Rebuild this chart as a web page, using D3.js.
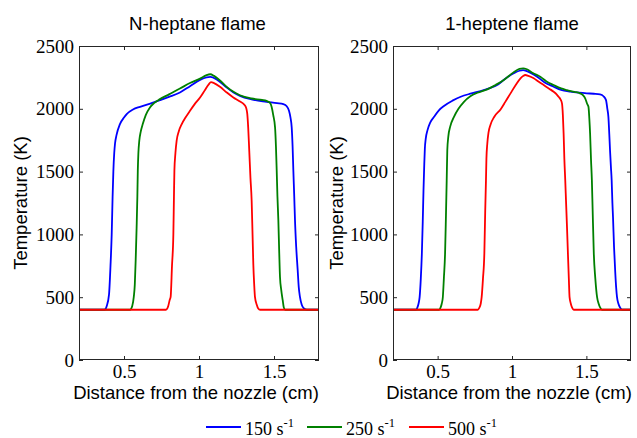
<!DOCTYPE html>
<html>
<head>
<meta charset="utf-8">
<script src="https://cdn.jsdelivr.net/npm/d3@7"></script>
<style>
  html, body { margin: 0; padding: 0; background: #fff; }
  svg { display: block; }
</style>
</head>
<body>
<svg id="chart" width="637" height="438"></svg>
<script>
// Temperature profiles [distance (cm), temperature (K)] for three strain rates

// N-heptane flame
const heptane150 = [[0.2,400],[0.37,400],[0.385,430],[0.40,520],[0.41,750],[0.418,1000],[0.424,1300],[0.429,1500],[0.435,1650],[0.44,1722],[0.45,1790],[0.473,1878],[0.5,1930],[0.518,1958],[0.56,1995],[0.607,2016],[0.67,2040],[0.74,2069],[0.80,2095],[0.873,2130],[0.94,2180],[1.007,2230],[1.05,2250],[1.075,2254],[1.12,2232],[1.185,2169],[1.23,2130],[1.273,2103],[1.35,2075],[1.45,2056],[1.52,2045],[1.562,2037],[1.585,2020],[1.600,1985],[1.61,1930],[1.618,1852],[1.624,1700],[1.629,1508],[1.635,1300],[1.64,1111],[1.648,900],[1.658,714],[1.665,580],[1.673,503],[1.685,440],[1.70,410],[1.72,400],[1.8,400]];
const heptane250 = [[0.2,400],[0.54,400],[0.555,430],[0.565,500],[0.572,600],[0.578,800],[0.584,1050],[0.589,1300],[0.592,1508],[0.596,1650],[0.602,1746],[0.612,1820],[0.625,1878],[0.645,1950],[0.673,2011],[0.70,2045],[0.74,2077],[0.80,2115],[0.873,2161],[0.94,2205],[1.007,2240],[1.05,2268],[1.075,2275],[1.10,2262],[1.14,2225],[1.185,2175],[1.23,2135],[1.273,2108],[1.35,2082],[1.42,2070],[1.45,2063],[1.475,2045],[1.484,2016],[1.495,1950],[1.507,1852],[1.513,1700],[1.518,1508],[1.523,1300],[1.529,1111],[1.535,850],[1.54,661],[1.548,560],[1.558,476],[1.565,420],[1.575,400],[1.8,400]];
const heptane500 = [[0.2,400],[0.78,400],[0.795,430],[0.805,480],[0.811,503],[0.82,750],[0.829,1000],[0.833,1300],[0.836,1508],[0.843,1650],[0.851,1746],[0.865,1820],[0.885,1878],[0.91,1930],[0.94,1984],[0.97,2035],[1.007,2090],[1.04,2150],[1.065,2195],[1.08,2212],[1.10,2205],[1.14,2175],[1.185,2130],[1.229,2090],[1.27,2060],[1.30,2035],[1.31,2020],[1.318,1990],[1.322,1958],[1.328,1850],[1.335,1667],[1.343,1450],[1.351,1270],[1.357,1000],[1.362,767],[1.368,600],[1.373,503],[1.385,440],[1.395,410],[1.407,400],[1.8,400]];

// 1-heptene flame
const heptene150 = [[0.2,400],[0.355,400],[0.363,415],[0.372,450],[0.379,500],[0.387,650],[0.394,846],[0.400,1100],[0.405,1350],[0.41,1550],[0.414,1680],[0.42,1760],[0.432,1830],[0.45,1890],[0.476,1936],[0.51,1990],[0.545,2025],[0.60,2065],[0.655,2096],[0.72,2120],[0.789,2141],[0.85,2165],[0.90,2189],[0.95,2235],[1.012,2283],[1.05,2303],[1.075,2308],[1.10,2300],[1.135,2280],[1.169,2255],[1.22,2210],[1.28,2176],[1.33,2150],[1.391,2136],[1.45,2128],[1.503,2123],[1.55,2120],[1.592,2115],[1.615,2100],[1.632,2069],[1.641,2000],[1.648,1936],[1.654,1800],[1.659,1670],[1.665,1537],[1.67,1430],[1.675,1250],[1.679,1138],[1.686,900],[1.694,700],[1.70,580],[1.706,500],[1.715,450],[1.728,415],[1.74,400],[1.8,400]];
const heptene250 = [[0.2,400],[0.51,400],[0.519,415],[0.528,450],[0.535,500],[0.542,650],[0.55,846],[0.556,1150],[0.561,1430],[0.565,1670],[0.572,1780],[0.585,1860],[0.61,1936],[0.64,2000],[0.677,2056],[0.72,2100],[0.767,2128],[0.834,2155],[0.89,2190],[0.945,2229],[1.01,2290],[1.05,2318],[1.075,2322],[1.10,2315],[1.14,2285],[1.19,2255],[1.23,2220],[1.28,2189],[1.33,2162],[1.369,2149],[1.42,2135],[1.458,2123],[1.48,2105],[1.492,2083],[1.505,2040],[1.514,2016],[1.52,1920],[1.525,1804],[1.531,1600],[1.537,1430],[1.542,1200],[1.55,846],[1.56,650],[1.572,500],[1.582,450],[1.594,415],[1.605,400],[1.8,400]];
const heptene500 = [[0.2,400],[0.77,400],[0.78,415],[0.79,450],[0.796,500],[0.805,650],[0.814,846],[0.82,1191],[0.825,1430],[0.828,1600],[0.834,1724],[0.842,1810],[0.856,1875],[0.88,1935],[0.923,1995],[0.955,2055],[0.99,2123],[1.025,2190],[1.057,2243],[1.075,2262],[1.09,2269],[1.11,2262],[1.146,2243],[1.18,2215],[1.213,2189],[1.25,2160],[1.28,2136],[1.30,2115],[1.313,2096],[1.326,2075],[1.336,2043],[1.342,1950],[1.347,1804],[1.352,1600],[1.358,1430],[1.363,1271],[1.37,1050],[1.376,846],[1.382,650],[1.387,500],[1.395,450],[1.405,415],[1.415,400],[1.8,400]];

const strainRates = ["150", "250", "500"];
const seriesColors = ["#0000ff", "#008000", "#ff0000"];
const panelTitles = ["N-heptane flame", "1-heptene flame"];
const xTicks = [0.5, 1, 1.5];
const yTicks = [0, 500, 1000, 1500, 2000, 2500];
const xDomain = [0.2, 1.8];
const yDomain = [0, 2500];

const panels = [
  { title: panelTitles[0], series: [heptane150, heptane250, heptane500], x0: 79, x1: 319, titleX: 197.5, labelX: 196, yLabelX: 27 },
  { title: panelTitles[1], series: [heptene150, heptene250, heptene500], x0: 393, x1: 631, titleX: 512, labelX: 509, yLabelX: 343 }
];

const svg = d3.select("#chart");
const plotTop = 46, plotBottom = 360;
const serif = "'Liberation Serif', 'Times New Roman', serif";
const sans = "'Liberation Sans', Arial, sans-serif";
const frameColor = "#262626";

panels.forEach(p => {
  const x = d3.scaleLinear().domain(xDomain).range([p.x0, p.x1]);
  const y = d3.scaleLinear().domain(yDomain).range([plotBottom, plotTop]);
  const g = svg.append("g");

  const styleAxis = sel => {
    sel.select(".domain").remove();
    sel.selectAll(".tick line").attr("stroke", frameColor).attr("stroke-width", 1);
    sel.selectAll(".tick text").attr("fill", "#000").attr("font-family", serif).attr("font-size", 19);
  };

  g.append("g").attr("transform", `translate(0,${plotBottom})`)
    .call(d3.axisBottom(x).tickValues(xTicks).tickSizeInner(-4).tickSizeOuter(0).tickPadding(5).tickFormat(d3.format("")))
    .call(styleAxis);
  g.append("g").attr("transform", `translate(0,${plotTop})`)
    .call(d3.axisTop(x).tickValues(xTicks).tickSizeInner(-4).tickSizeOuter(0).tickFormat(""))
    .call(styleAxis);
  g.append("g").attr("transform", `translate(${p.x0},0)`)
    .call(d3.axisLeft(y).tickValues(yTicks).tickSizeInner(-4).tickSizeOuter(0).tickPadding(5).tickFormat(d3.format("d")))
    .call(styleAxis);
  g.append("g").attr("transform", `translate(${p.x1},0)`)
    .call(d3.axisRight(y).tickValues(yTicks).tickSizeInner(-4).tickSizeOuter(0).tickFormat(""))
    .call(styleAxis);

  const line = d3.line()
    .x(d => x(d[0]))
    .y(d => y(d[1]))
    .curve(d3.curveMonotoneX);

  p.series.forEach((s, si) => {
    g.append("path")
      .datum(s)
      .attr("fill", "none")
      .attr("stroke", seriesColors[si])
      .attr("stroke-width", 1.8)
      .attr("stroke-linejoin", "round")
      .attr("d", line);
  });

  g.append("rect")
    .attr("x", p.x0 + 0.5).attr("y", plotTop + 0.5)
    .attr("width", p.x1 - p.x0 - 1).attr("height", plotBottom - plotTop - 1)
    .attr("fill", "none").attr("stroke", frameColor).attr("stroke-width", 1);

  g.append("text")
    .attr("x", p.titleX).attr("y", 30)
    .attr("text-anchor", "middle")
    .attr("font-family", sans).attr("font-size", 18.5)
    .text(p.title);

  g.append("text")
    .attr("x", p.labelX).attr("y", 399)
    .attr("text-anchor", "middle")
    .attr("font-family", sans).attr("font-size", 18.5)
    .text("Distance from the nozzle (cm)");

  g.append("text")
    .attr("transform", `translate(${p.yLabelX},${(plotTop + plotBottom) / 2}) rotate(-90)`)
    .attr("text-anchor", "middle")
    .attr("font-family", sans).attr("font-size", 18.5)
    .text("Temperature (K)");
});

// Legend
const legendLineX = [206, 307, 409];
const legend = svg.append("g");
strainRates.forEach((r, i) => {
  const lx = legendLineX[i];
  legend.append("line")
    .attr("x1", lx).attr("x2", lx + 35)
    .attr("y1", 427).attr("y2", 427)
    .attr("stroke", seriesColors[i]).attr("stroke-width", 1.8);
  const t = legend.append("text")
    .attr("x", lx + 39).attr("y", 434.5)
    .attr("font-family", serif).attr("font-size", 18);
  t.append("tspan").text(r + " s");
  t.append("tspan").attr("font-size", 12.5).attr("dy", -8).text("-1");
});
</script>
</body>
</html>
